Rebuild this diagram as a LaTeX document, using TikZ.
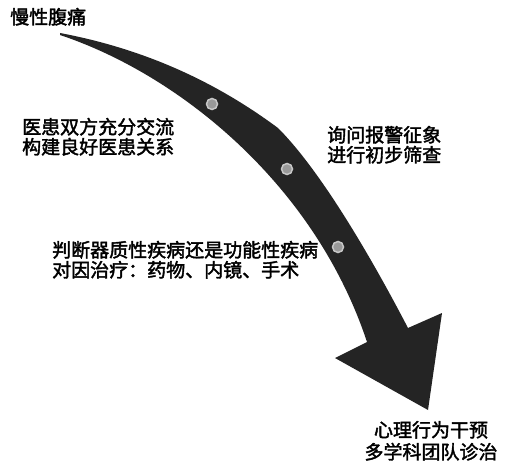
\documentclass[tikz,border=0pt]{standalone}
\usepackage{fontspec}
\newfontfamily\cjk{Noto Sans CJK SC}[FakeBold=2]
\definecolor{arrowcolor}{rgb}{0.140000, 0.140000, 0.140000}
\definecolor{dotgray}{rgb}{0.600000, 0.600000, 0.600000}
\definecolor{dotring}{rgb}{0.780000, 0.780000, 0.780000}
\tikzset{
  label line/.style={inner sep=0pt, font=\cjk\fontsize{19}{21}\selectfont},
  way dot/.style={circle, inner sep=0pt, minimum size=11pt, fill=dotgray, draw=dotring, line width=1.5pt},
}

\begin{document}
\begin{tikzpicture}[x=1pt,y=-1pt]
\fill[white] (0,0) rectangle (508,465);
\useasboundingbox (0,0) rectangle (508,465);
% curved arrow
\fill[arrowcolor] (60,33) .. controls (150,50) and (220,85) .. (278,128)
  .. controls (320,170) and (370,255) .. (408,328)
  -- (442,313) -- (428,410) -- (335,358) -- (367,342)
  .. controls (315,185) and (180,75) .. (60,35) -- cycle;
\node[way dot] (dotA) at (212,104) {};
\node[way dot] (dotB) at (287,169) {};
\node[way dot] (dotC) at (338,247) {};
% texts
\node[label line, anchor=base west] (start) at (10,24) {慢性腹痛};
\node[label line, anchor=base west] (talkA) at (22,134) {医患双方充分交流};
\node[label line, anchor=base west] (talkB) at (22,154) {构建良好医患关系};
\node[label line, anchor=base west] (askA) at (327,142) {询问报警征象};
\node[label line, anchor=base west] (askB) at (327,162) {进行初步筛查};
\node[label line, anchor=base west] (judgeA) at (52,257) {判断器质性疾病还是功能性疾病};
\node[label line, anchor=base west] (judgeB) at (52,277) {对因治疗：药物、内镜、手术};
\node[label line, anchor=base] (endA) at (431,437) {心理行为干预};
\node[label line, anchor=base] (endB) at (431,459) {多学科团队诊治};
\end{tikzpicture}
\end{document}
